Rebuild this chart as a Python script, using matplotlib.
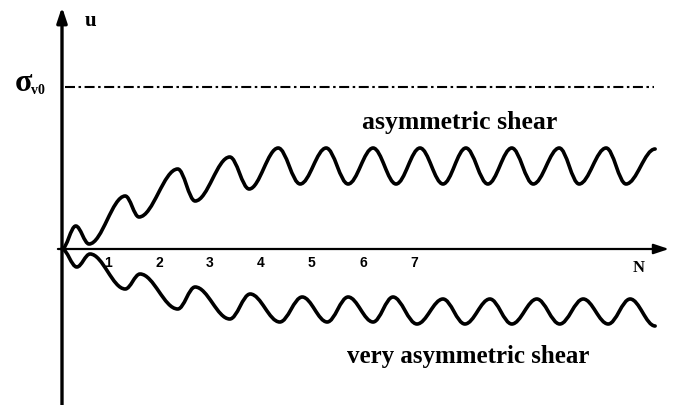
#!/usr/bin/env python3
"""
Sketch of shear response u versus cycle number N for two loading cases.
"""
import matplotlib.pyplot as plt
from matplotlib.path import Path
import matplotlib.patches as patches

# Turning points (N, u) of the asymmetric shear response
upper_n = [0, 0.27, 0.53, 1.24, 1.51, 2.27, 2.61, 3.29, 3.67, 4.24, 4.67, 5.18, 5.61,
           6.10, 6.55, 7.02, 7.47, 7.92, 8.35, 8.82, 9.24, 9.75, 10.14, 10.67, 11.06, 11.63]
upper_u = [0, 0.23, 0.05, 0.53, 0.32, 0.80, 0.48, 0.92, 0.60, 1.01, 0.65, 1.01, 0.65,
           1.01, 0.65, 1.01, 0.65, 1.01, 0.65, 1.01, 0.65, 1.01, 0.65, 1.01, 0.65, 1.00]

# Turning points (N, u) of the very asymmetric shear response
lower_n = [0, 0.29, 0.55, 1.24, 1.53, 2.27, 2.61, 3.29, 3.69, 4.27, 4.71, 5.20, 5.61,
           6.10, 6.49, 6.96, 7.47, 7.90, 8.39, 8.82, 9.31, 9.76, 10.22, 10.71, 11.14, 11.63]
lower_u = [0, -0.18, -0.05, -0.40, -0.25, -0.60, -0.38, -0.70, -0.45, -0.73, -0.48, -0.73, -0.48,
           -0.73, -0.48, -0.75, -0.50, -0.75, -0.50, -0.75, -0.50, -0.75, -0.50, -0.75, -0.50, -0.77]

sigma_v0 = 1.62
tick_labels = ['1', '2', '3', '4', '5', '6', '7']

SERIF = ['Liberation Serif', 'DejaVu Serif']


def wave_path(xs, ys, k=0.36):
    # cubic segments with flat tangents at every turning point
    verts = [(xs[0], ys[0])]
    codes = [Path.MOVETO]
    for i in range(1, len(xs)):
        x0, y0, x1, y1 = xs[i - 1], ys[i - 1], xs[i], ys[i]
        dx = x1 - x0
        verts += [(x0 + k * dx, y0), (x1 - k * dx, y1), (x1, y1)]
        codes += [Path.CURVE4] * 3
    return Path(verts, codes)


def create_diagram():
    fig = plt.figure(figsize=(6.77, 4.06), dpi=100)
    ax = fig.add_axes([0, 0, 1, 1])
    ax.set_xlim(-62 / 51, 615 / 51)
    ax.set_ylim(-1.56, 2.5)
    ax.axis('off')

    # Axes with arrow heads
    ax.annotate('', xy=(0, 2.42), xytext=(0, -1.58),
                arrowprops=dict(arrowstyle='-|>,head_length=0.9,head_width=0.3',
                                lw=2.4, color='black', shrinkA=0, shrinkB=0))
    ax.annotate('', xy=(11.9, 0), xytext=(-0.08, 0),
                arrowprops=dict(arrowstyle='-|>,head_length=0.9,head_width=0.3',
                                lw=1.6, color='black', shrinkA=0, shrinkB=0))

    # Reference stress level
    ax.plot([0.06, 11.6], [sigma_v0, sigma_v0], color='black', lw=1.5,
            linestyle=(0, (4.8, 1.7, 1.2, 1.7)))

    for xs, ys in [(upper_n, upper_u), (lower_n, lower_u)]:
        ax.add_patch(patches.PathPatch(wave_path(xs, ys), facecolor='none',
                                       edgecolor='black', lw=2.6,
                                       capstyle='round', joinstyle='round'))

    for k, lab in enumerate(tick_labels, start=1):
        ax.text(k - 0.1, -0.13, lab, ha='center', va='center', fontsize=10,
                fontweight='bold', family=['Liberation Sans', 'DejaVu Sans'])

    ax.text(11.3, -0.18, 'N', ha='center', va='center', fontsize=12,
            fontweight='bold', family=SERIF)
    ax.text(0.55, 2.29, 'u', ha='center', va='center', fontsize=15,
            fontweight='bold', family=SERIF)
    ax.text(-0.58, 1.67, '\u03c3', ha='right', va='center', fontsize=23,
            fontweight='bold', family=SERIF)
    ax.text(-0.6, 1.6, 'v0', ha='left', va='center', fontsize=10,
            fontweight='bold', family=SERIF)

    ax.text(460 / 51 - 62 / 51, 1.27, 'asymmetric shear', ha='center', va='center',
            fontsize=18.5, fontweight='bold', family=SERIF)
    ax.text(468 / 51 - 62 / 51, -1.07, 'very asymmetric shear', ha='center', va='center',
            fontsize=18, fontweight='bold', family=SERIF)

    fig.savefig('out.png', dpi=100, facecolor='white')


if __name__ == '__main__':
    create_diagram()
